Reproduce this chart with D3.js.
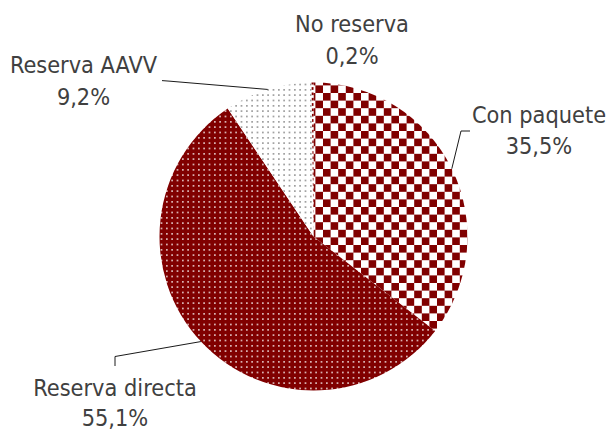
<!DOCTYPE html>
<html>
<head>
<meta charset="utf-8">
<script src="https://cdn.jsdelivr.net/npm/d3@7"></script>
<style>
  html, body { margin: 0; padding: 0; background: #ffffff; }
  svg { display: block; }
  text { font-family: "DejaVu Sans Condensed", "DejaVu Sans", sans-serif; font-stretch: condensed; }
</style>
</head>
<body>
<svg id="chart" width="608" height="430"></svg>
<script>
// ---- data ----
const categories = ["Con paquete", "Reserva directa", "Reserva AAVV", "No reserva"];
const values = [35.5, 55.1, 9.2, 0.2];
const valueLabels = ["35,5%", "55,1%", "9,2%", "0,2%"];

// ---- layout (not data) ----
const W = 608, H = 430;
const cx = 313.5, cy = 236.5, R = 154;
const patterns = ["checker", "dotsWhite", "dotsGray", "dash"];
// label anchor: center x, first-line baseline, line gap
const labelLayout = [
  { x: 539, y: 123, gap: 30.5 },
  { x: 115, y: 396, gap: 30 },
  { x: 83.5, y: 73.3, gap: 31.7 },
  { x: 352, y: 32.3, gap: 31.7 }
];
// leader line waypoints (after the start point on the pie edge)
const leaderLayout = [
  [[461, 131], [470, 131]],
  [[115, 356.5], [115, 366]],
  [[170, 81.2], [162, 80.6]],
  null
];

const svg = d3.select("#chart");
const defs = svg.append("defs");
const maroon = "#800000";
const cell = 16 / 3;     // dot pattern cell
const ccell = 7.6;       // checker cell

// checkerboard
const pc = defs.append("pattern").attr("id", "checker")
  .attr("patternUnits", "userSpaceOnUse")
  .attr("width", ccell * 2).attr("height", ccell * 2)
  .attr("x", cx).attr("y", cy);
pc.append("rect").attr("width", ccell * 2).attr("height", ccell * 2).attr("fill", "#ffffff");
pc.append("rect").attr("width", ccell).attr("height", ccell).attr("fill", maroon);
pc.append("rect").attr("x", ccell).attr("y", ccell).attr("width", ccell).attr("height", ccell).attr("fill", maroon);

// maroon with white dots
const pd = defs.append("pattern").attr("id", "dotsWhite")
  .attr("patternUnits", "userSpaceOnUse")
  .attr("width", cell).attr("height", cell);
pd.append("rect").attr("width", cell).attr("height", cell).attr("fill", maroon);
pd.append("rect").attr("x", 1.8).attr("y", 1.8).attr("width", 1.7).attr("height", 1.7)
  .attr("fill", "#ffffff").attr("opacity", 0.75);

// white with gray dots
const pg = defs.append("pattern").attr("id", "dotsGray")
  .attr("patternUnits", "userSpaceOnUse")
  .attr("width", cell).attr("height", cell);
pg.append("rect").attr("width", cell).attr("height", cell).attr("fill", "#ffffff");
pg.append("rect").attr("x", 1.8).attr("y", 1.8).attr("width", 1.7).attr("height", 1.7)
  .attr("fill", "#9a9a9a");

// dashed maroon
const ph = defs.append("pattern").attr("id", "dash")
  .attr("patternUnits", "userSpaceOnUse")
  .attr("width", cell).attr("height", cell);
ph.append("rect").attr("width", cell).attr("height", cell).attr("fill", "#ffffff");
ph.append("rect").attr("width", cell).attr("height", cell / 2).attr("fill", maroon);

const data = categories.map((c, i) => ({ cat: c, value: values[i], label: valueLabels[i], i }));

const pie = d3.pie().sort(null).value(d => d.value);
const arcs = pie(data);
const arc = d3.arc().innerRadius(0).outerRadius(R);

const g = svg.append("g").attr("transform", `translate(${cx},${cy})`);
g.selectAll("path.slice").data(arcs).enter().append("path")
  .attr("class", "slice")
  .attr("d", arc)
  .attr("fill", d => `url(#${patterns[d.data.i]})`);

// leader lines
arcs.forEach(a => {
  const pts = leaderLayout[a.data.i];
  if (!pts) return;
  const mid = (a.startAngle + a.endAngle) / 2;
  const start = [cx + R * Math.sin(mid), cy - R * Math.cos(mid)];
  svg.append("path")
    .attr("d", d3.line()([start, ...pts]))
    .attr("fill", "none")
    .attr("stroke", "#1a1a1a")
    .attr("stroke-width", 1);
});

// labels
arcs.forEach(a => {
  const L = labelLayout[a.data.i];
  const t = svg.append("text")
    .attr("text-anchor", "middle")
    .attr("fill", "#404040")
    .attr("font-size", 23.3);
  t.append("tspan").attr("x", L.x).attr("y", L.y).text(a.data.cat);
  t.append("tspan").attr("x", L.x).attr("y", L.y + L.gap).text(a.data.label);
});
</script>
</body>
</html>
